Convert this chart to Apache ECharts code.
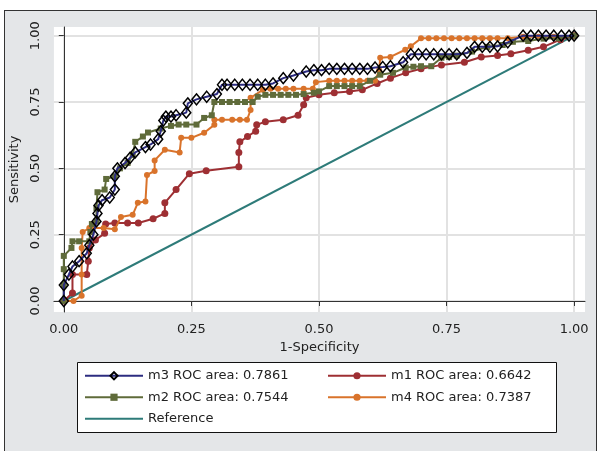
<!DOCTYPE html>
<html>
<head>
<meta charset="utf-8">
<script src="https://cdn.jsdelivr.net/npm/echarts@6/dist/echarts.min.js"></script>
<style>
html,body{margin:0;padding:0;background:#fff;}
#wrap{position:relative;width:599px;height:451px;overflow:hidden;}
#frame{position:absolute;left:4px;top:10px;width:591px;height:460px;border:1px solid #333;background:#e4e6e8;}
#chart{position:absolute;left:0;top:0;width:599px;height:451px;}
</style>
</head>
<body>
<div id="wrap"><div id="frame"></div><div id="chart"></div></div>
<script>
const xTicks = [0, 0.25, 0.5, 0.75, 1];
const yTicks = [0, 0.25, 0.5, 0.75, 1];
const seriesNames = ['m3 ROC area: 0.7861', 'm1 ROC area: 0.6642', 'm2 ROC area: 0.7544', 'm4 ROC area: 0.7387', 'Reference'];

const m3 = [[0,0],[0,0.06],[0.01,0.10],[0.017,0.13],[0.03,0.15],[0.045,0.18],[0.05,0.21],[0.058,0.25],[0.064,0.30],[0.066,0.33],[0.068,0.36],[0.075,0.38],[0.09,0.39],[0.1,0.42],[0.1,0.47],[0.105,0.5],[0.12,0.52],[0.13,0.54],[0.14,0.56],[0.16,0.58],[0.17,0.59],[0.185,0.61],[0.19,0.64],[0.195,0.68],[0.2,0.695],[0.21,0.695],[0.22,0.70],[0.24,0.71],[0.243,0.745],[0.26,0.76],[0.28,0.77],[0.3,0.78],[0.31,0.815],[0.32,0.815],[0.335,0.815],[0.35,0.815],[0.365,0.815],[0.38,0.815],[0.395,0.815],[0.41,0.82],[0.43,0.84],[0.45,0.85],[0.475,0.865],[0.49,0.87],[0.505,0.87],[0.52,0.875],[0.535,0.875],[0.55,0.875],[0.565,0.875],[0.58,0.875],[0.595,0.875],[0.61,0.88],[0.625,0.882],[0.64,0.885],[0.665,0.9],[0.68,0.93],[0.695,0.93],[0.71,0.93],[0.725,0.93],[0.74,0.93],[0.755,0.93],[0.77,0.93],[0.79,0.935],[0.805,0.958],[0.82,0.958],[0.835,0.958],[0.85,0.96],[0.87,0.975],[0.9,1.0],[0.915,1],[0.93,1],[0.945,1],[0.96,1],[0.975,1],[0.99,1],[1,1]];

const m1 = [[0,0],[0.017,0.03],[0.017,0.1],[0.045,0.1],[0.048,0.15],[0.05,0.2],[0.062,0.23],[0.08,0.255],[0.082,0.29],[0.1,0.294],[0.125,0.294],[0.146,0.294],[0.175,0.31],[0.198,0.33],[0.198,0.37],[0.22,0.42],[0.246,0.48],[0.279,0.491],[0.343,0.506],[0.343,0.56],[0.345,0.6],[0.36,0.62],[0.376,0.64],[0.378,0.664],[0.395,0.676],[0.43,0.683],[0.459,0.70],[0.47,0.74],[0.475,0.766],[0.5,0.777],[0.53,0.785],[0.56,0.79],[0.585,0.796],[0.614,0.82],[0.64,0.84],[0.67,0.86],[0.7,0.875],[0.74,0.89],[0.785,0.90],[0.818,0.92],[0.85,0.925],[0.876,0.932],[0.91,0.945],[0.94,0.958],[0.973,0.985],[1,1]];

const m2 = [[0,0],[0,0.06],[0,0.12],[0,0.17],[0.015,0.2],[0.017,0.225],[0.03,0.225],[0.05,0.225],[0.052,0.26],[0.055,0.29],[0.064,0.3],[0.064,0.35],[0.066,0.41],[0.08,0.42],[0.083,0.46],[0.1,0.47],[0.11,0.5],[0.125,0.52],[0.135,0.55],[0.14,0.6],[0.155,0.62],[0.165,0.635],[0.19,0.65],[0.21,0.66],[0.225,0.665],[0.24,0.665],[0.26,0.665],[0.275,0.69],[0.29,0.70],[0.295,0.75],[0.31,0.75],[0.325,0.75],[0.34,0.75],[0.355,0.75],[0.37,0.75],[0.38,0.77],[0.395,0.777],[0.41,0.777],[0.425,0.777],[0.44,0.777],[0.455,0.777],[0.47,0.78],[0.49,0.785],[0.5,0.79],[0.52,0.81],[0.535,0.81],[0.55,0.81],[0.565,0.81],[0.58,0.81],[0.6,0.83],[0.62,0.853],[0.645,0.86],[0.67,0.88],[0.685,0.883],[0.7,0.885],[0.72,0.885],[0.74,0.917],[0.755,0.92],[0.77,0.925],[0.8,0.94],[0.83,0.958],[0.86,0.965],[0.88,0.977],[0.91,0.98],[0.94,0.989],[0.97,0.99],[1,1]];

const m4 = [[0,0],[0.019,0],[0.035,0.02],[0.035,0.1],[0.035,0.2],[0.037,0.26],[0.05,0.275],[0.078,0.275],[0.1,0.27],[0.112,0.317],[0.135,0.325],[0.145,0.37],[0.16,0.375],[0.163,0.475],[0.178,0.49],[0.178,0.53],[0.198,0.57],[0.227,0.56],[0.23,0.615],[0.25,0.615],[0.275,0.634],[0.295,0.664],[0.295,0.683],[0.31,0.683],[0.33,0.683],[0.345,0.683],[0.359,0.683],[0.366,0.72],[0.366,0.766],[0.39,0.796],[0.405,0.80],[0.42,0.80],[0.435,0.80],[0.45,0.80],[0.47,0.80],[0.488,0.80],[0.494,0.825],[0.52,0.83],[0.535,0.83],[0.55,0.83],[0.565,0.83],[0.58,0.83],[0.595,0.83],[0.61,0.83],[0.618,0.87],[0.62,0.917],[0.64,0.92],[0.669,0.947],[0.68,0.96],[0.70,0.99],[0.715,0.99],[0.73,0.99],[0.745,0.99],[0.76,0.99],[0.775,0.99],[0.79,0.99],[0.805,0.99],[0.82,0.99],[0.835,0.99],[0.85,0.99],[0.87,0.99],[0.9,0.996],[0.93,0.996],[0.96,0.996],[1,1]];

const reference = [[0,0],[1,1]];

const FONT = 'DejaVu Sans';
const chart = echarts.init(document.getElementById('chart'), null, {renderer: 'canvas'});

const axisCommon = {
  type: 'value',
  axisLine: {show: true, lineStyle: {color: '#333', width: 1}},
  axisTick: {show: true, length: 5, lineStyle: {color: '#333'}},
  splitLine: {show: true, lineStyle: {color: '#e2e2e2', width: 2}},
  nameLocation: 'middle',
  nameTextStyle: {fontFamily: FONT, fontSize: 13, color: '#222'}
};

chart.setOption({
  animation: false,
  textStyle: {fontFamily: FONT},
  graphic: [{
    type: 'rect', z: 0, silent: true,
    shape: {x: 77.5, y: 362.5, width: 479, height: 70},
    style: {fill: '#fff', stroke: '#111', lineWidth: 1}
  }],
  grid: {left: 48, right: 14, top: 27, bottom: 139, show: true, backgroundColor: '#fff', borderWidth: 0},
  xAxis: Object.assign({}, axisCommon, {
    min: -0.0194, max: 1.0213,
    name: '1-Specificity', nameGap: 24,
    axisTick: Object.assign({}, axisCommon.axisTick, {customValues: xTicks}),
    axisLabel: {customValues: xTicks, margin: 11, fontFamily: FONT, fontSize: 13, color: '#222', formatter: v => v.toFixed(2)}
  }),
  yAxis: Object.assign({}, axisCommon, {
    min: -0.0415, max: 1.0328,
    name: 'Sensitivity', nameGap: 29,
    axisTick: Object.assign({}, axisCommon.axisTick, {customValues: yTicks}),
    axisLabel: {customValues: yTicks, rotate: 90, margin: 12, fontFamily: FONT, fontSize: 13, color: '#222', formatter: v => v.toFixed(2)}
  }),
  legend: {
    left: 84, top: 368.5, width: 510, padding: 0,
    itemWidth: 58, itemHeight: 9, itemGap: 7,
    data: [seriesNames[0], seriesNames[1], seriesNames[2], seriesNames[3], {name: seriesNames[4], itemStyle: {opacity: 0}}],
    textStyle: {fontFamily: FONT, fontSize: 13, color: '#222', width: 172, lineHeight: 14.5, overflow: 'truncate'}
  },
  series: [
    {name: seriesNames[4], type: 'line', data: reference, symbol: 'none', lineStyle: {color: '#2e7b79', width: 2}, itemStyle: {color: '#2e7b79'}, z: 1},
    {name: seriesNames[1], type: 'line', data: m1, symbol: 'circle', symbolSize: 7, lineStyle: {color: '#9e2f33', width: 2}, itemStyle: {color: '#9e2f33'}, z: 2},
    {name: seriesNames[3], type: 'line', data: m4, symbol: 'circle', symbolSize: 6, lineStyle: {color: '#d9732b', width: 2}, itemStyle: {color: '#d9732b'}, z: 3},
    {name: seriesNames[2], type: 'line', data: m2, symbol: 'rect', symbolSize: 6, lineStyle: {color: '#5f6b3a', width: 2}, itemStyle: {color: '#5f6b3a'}, z: 4},
    {name: seriesNames[0], type: 'line', data: m3, symbol: 'diamond', symbolSize: [9, 11], lineStyle: {color: '#2c2c80', width: 2}, itemStyle: {color: 'rgba(255,255,255,0)', borderColor: '#000', borderWidth: 1.5}, z: 5}
  ]
});
</script>
</body>
</html>
